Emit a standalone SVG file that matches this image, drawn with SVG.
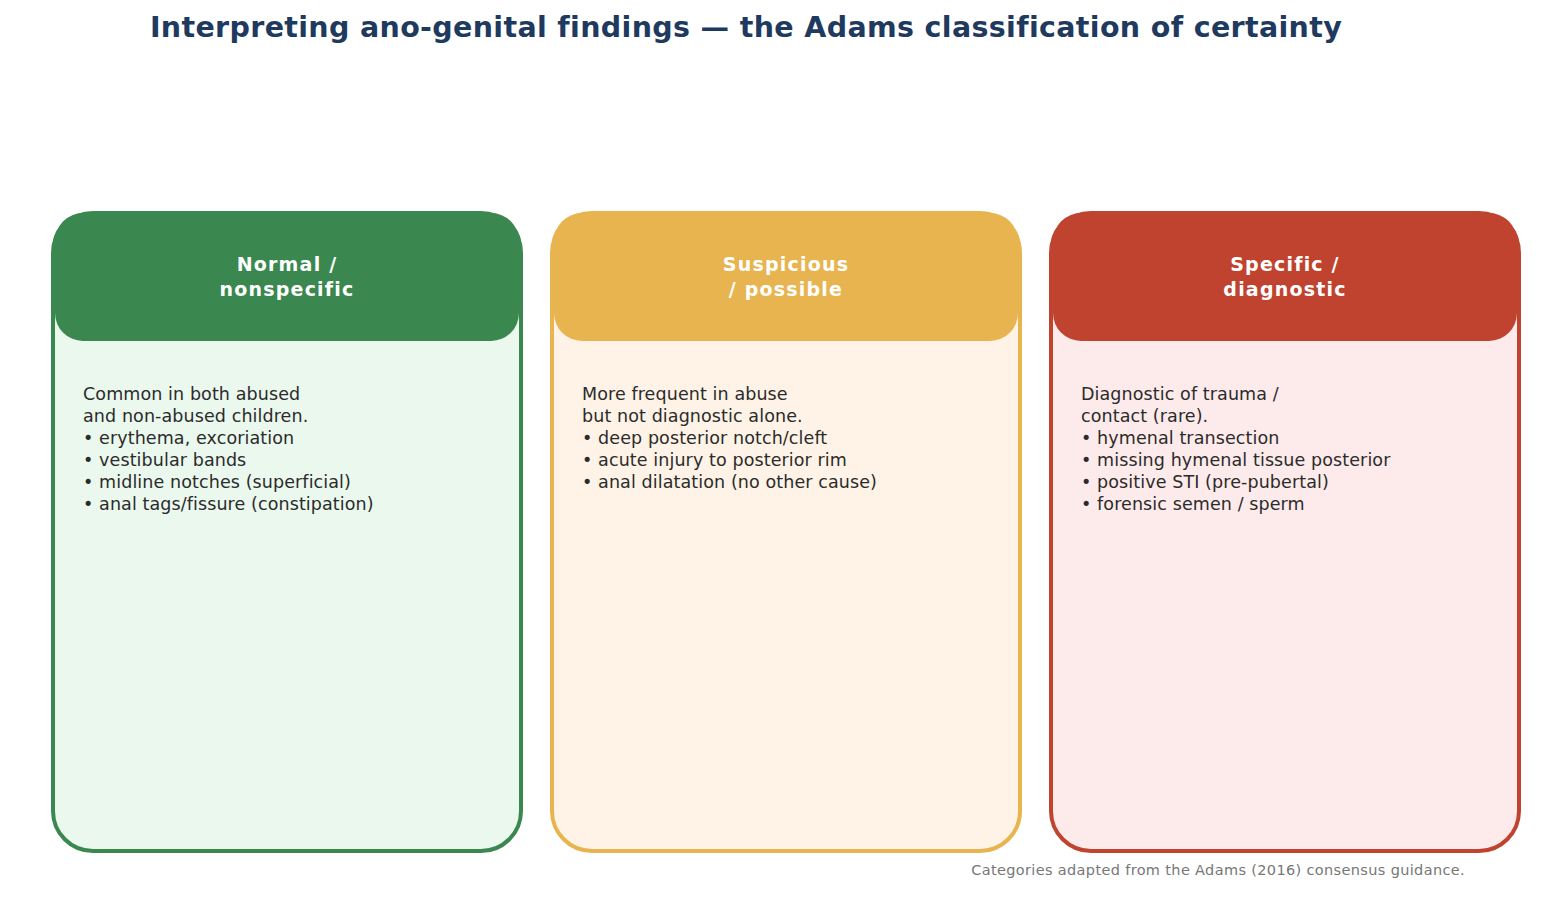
<svg xmlns="http://www.w3.org/2000/svg" width="1541" height="907" viewBox="0 0 1541 907">
<style>
.title{font-family:"DejaVu Sans",sans-serif;font-weight:bold;font-size:28.5px;fill:#1f3a5f;letter-spacing:0.34px}
.hd{font-family:"DejaVu Sans",sans-serif;font-weight:bold;font-size:19px;fill:#ffffff;text-anchor:middle;letter-spacing:1.2px}
.bd{font-family:"DejaVu Sans",sans-serif;font-size:17.5px;fill:#2b2b2b;letter-spacing:0.1px}
.ft{font-family:"DejaVu Sans",sans-serif;font-size:14.5px;fill:#777777;text-anchor:end;letter-spacing:0.35px}
</style>
<rect width="1541" height="907" fill="#ffffff"/>
<text class="title" x="746" y="37" text-anchor="middle">Interpreting ano-genital findings — the Adams classification of certainty</text>
<g id="normal">
<rect x="53" y="213" width="468" height="638" rx="40" fill="#eaf8ee" stroke="#3b8750" stroke-width="4"/>
<rect x="55" y="213" width="464" height="128" rx="28" fill="#3b8750"/>
<rect x="53" y="213" width="468" height="60" rx="40" fill="#3b8750"/>
<text class="hd" x="287" y="271">Normal /</text>
<text class="hd" x="287" y="296">nonspecific</text>
<text class="bd"><tspan x="83" y="400">Common in both abused</tspan><tspan x="83" y="422">and non-abused children.</tspan><tspan x="83" y="444">• erythema, excoriation</tspan><tspan x="83" y="466">• vestibular bands</tspan><tspan x="83" y="488">• midline notches (superficial)</tspan><tspan x="83" y="510">• anal tags/fissure (constipation)</tspan></text>
</g>
<g id="suspicious">
<rect x="552" y="213" width="468" height="638" rx="40" fill="#fef3e6" stroke="#e8b44f" stroke-width="4"/>
<rect x="554" y="213" width="464" height="128" rx="28" fill="#e8b44f"/>
<rect x="552" y="213" width="468" height="60" rx="40" fill="#e8b44f"/>
<text class="hd" x="786" y="271">Suspicious</text>
<text class="hd" x="786" y="296">/ possible</text>
<text class="bd"><tspan x="582" y="400">More frequent in abuse</tspan><tspan x="582" y="422">but not diagnostic alone.</tspan><tspan x="582" y="444">• deep posterior notch/cleft</tspan><tspan x="582" y="466">• acute injury to posterior rim</tspan><tspan x="582" y="488">• anal dilatation (no other cause)</tspan></text>
</g>
<g id="specific">
<rect x="1051" y="213" width="468" height="638" rx="40" fill="#fdeaea" stroke="#c0432f" stroke-width="4"/>
<rect x="1053" y="213" width="464" height="128" rx="28" fill="#c0432f"/>
<rect x="1051" y="213" width="468" height="60" rx="40" fill="#c0432f"/>
<text class="hd" x="1285" y="271">Specific /</text>
<text class="hd" x="1285" y="296">diagnostic</text>
<text class="bd"><tspan x="1081" y="400">Diagnostic of trauma /</tspan><tspan x="1081" y="422">contact (rare).</tspan><tspan x="1081" y="444">• hymenal transection</tspan><tspan x="1081" y="466">• missing hymenal tissue posterior</tspan><tspan x="1081" y="488">• positive STI (pre-pubertal)</tspan><tspan x="1081" y="510">• forensic semen / sperm</tspan></text>
</g>
<g id="connectors"></g>
<text class="ft" x="1465" y="875">Categories adapted from the Adams (2016) consensus guidance.</text>
</svg>
